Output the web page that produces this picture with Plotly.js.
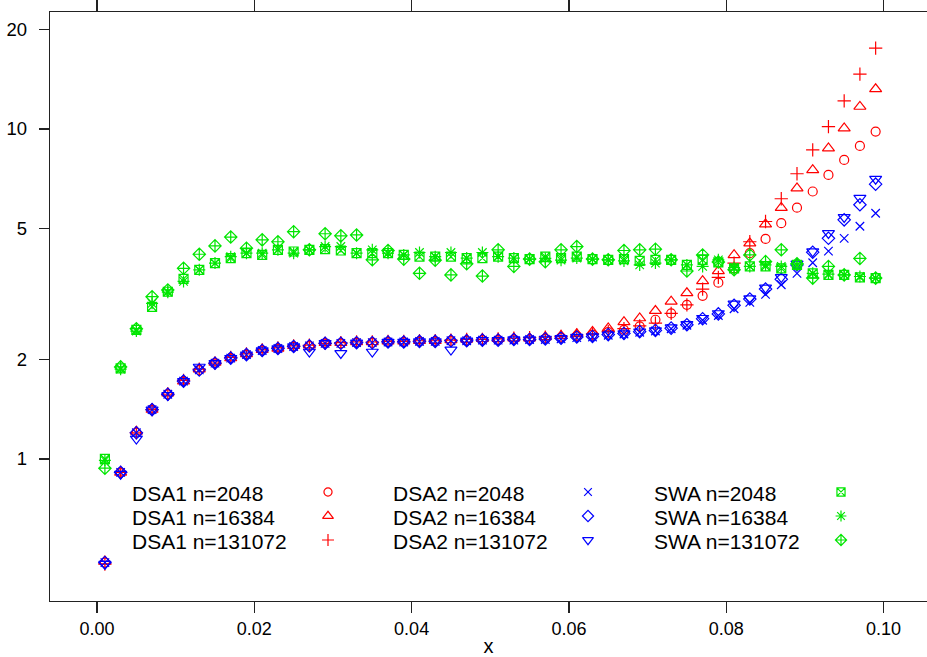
<!DOCTYPE html>
<html>
<head>
<meta charset="utf-8">
<script src="https://cdn.plot.ly/plotly-3.0.1.min.js"></script>
<style>html,body{margin:0;padding:0;overflow:hidden;background:#fff}#chart{width:927px;height:657px}</style>
</head>
<body>
<div id="chart"></div>
<script>
// ---- data ----
const xVals = [0.001,0.003,0.005,0.007,0.009,0.011,0.013,0.015,0.017,0.019,0.021,0.023,0.025,0.027,0.029,0.031,0.033,0.035,0.037,0.039,0.041,0.043,0.045,0.047,0.049,0.051,0.053,0.055,0.057,0.059,0.061,0.063,0.065,0.067,0.069,0.071,0.073,0.075,0.077,0.079,0.081,0.083,0.085,0.087,0.089,0.091,0.093,0.095,0.097,0.099];

const dsa1_n2048 = [0.485,0.91,1.20,1.41,1.57,1.72,1.86,1.95,2.02,2.07,
  2.13,2.16,2.19,2.20,2.24,2.24,2.25,2.25,2.26,2.26,
  2.27,2.27,2.28,2.28,2.29,2.29,2.30,2.30,2.31,2.33,
  2.36,2.38,2.42,2.46,2.52,2.64,2.76,2.93,3.12,3.42,
  3.78,4.20,4.64,5.18,5.77,6.46,7.25,8.05,8.88,9.81];
const dsa1_n16384 = [0.49,0.91,1.21,1.41,1.58,1.72,1.87,1.96,2.02,2.08,
  2.14,2.16,2.20,2.21,2.25,2.25,2.26,2.26,2.27,2.27,
  2.28,2.28,2.29,2.30,2.31,2.31,2.32,2.32,2.34,2.36,
  2.39,2.43,2.49,2.60,2.67,2.81,3.00,3.18,3.46,3.71,
  4.15,4.50,5.14,5.77,6.61,7.51,8.74,10.05,11.68,13.20];
const dsa1_n131072 = [0.48,0.91,1.20,1.41,1.57,1.73,1.87,1.95,2.03,2.08,
  2.14,2.17,2.20,2.21,2.24,2.25,2.26,2.26,2.27,2.27,
  2.28,2.28,2.29,2.30,2.30,2.31,2.32,2.33,2.34,2.35,
  2.37,2.39,2.43,2.48,2.53,2.58,2.76,2.93,3.27,3.55,
  3.92,4.55,5.24,6.14,7.31,8.64,10.16,12.16,14.65,17.56];
const dsa2_n2048 = [0.485,0.91,1.20,1.41,1.57,1.72,1.86,1.95,2.02,2.07,
  2.13,2.16,2.19,2.20,2.24,2.24,2.25,2.25,2.26,2.26,
  2.27,2.27,2.28,2.28,2.29,2.29,2.29,2.30,2.30,2.31,
  2.33,2.34,2.37,2.39,2.42,2.44,2.48,2.54,2.63,2.72,
  2.85,2.98,3.15,3.37,3.65,3.93,4.26,4.66,5.07,5.55];
const dsa2_n16384 = [0.485,0.91,1.20,1.41,1.57,1.72,1.86,1.95,2.02,2.07,
  2.13,2.16,2.19,2.20,2.24,2.24,2.25,2.25,2.26,2.26,
  2.27,2.27,2.28,2.28,2.29,2.29,2.30,2.30,2.31,2.32,
  2.34,2.35,2.38,2.40,2.43,2.45,2.49,2.55,2.66,2.75,
  2.92,3.05,3.27,3.50,3.87,4.23,4.66,5.30,5.89,6.80];
const dsa2_n131072 = [0.48,0.90,1.15,1.41,1.56,1.72,1.90,1.95,2.02,2.07,
  2.13,2.16,2.19,2.11,2.24,2.09,2.25,2.11,2.26,2.26,
  2.27,2.27,2.14,2.28,2.29,2.29,2.30,2.30,2.31,2.32,
  2.34,2.35,2.38,2.40,2.43,2.45,2.50,2.56,2.67,2.76,
  2.95,3.06,3.30,3.55,3.90,4.25,4.83,5.40,6.17,7.05];
const swa_n2048 = [1.00,1.88,2.46,2.89,3.21,3.51,3.74,3.92,4.06,4.20,
  4.15,4.30,4.25,4.30,4.32,4.28,4.20,4.20,4.20,4.15,
  4.10,4.10,4.10,4.06,4.06,4.10,4.06,4.03,4.10,4.06,
  4.10,4.03,4.01,4.03,3.98,4.01,4.01,3.87,4.01,3.94,
  3.78,3.83,3.83,3.78,3.87,3.65,3.61,3.61,3.55,3.53];
const swa_n16384 = [0.99,1.87,2.44,2.96,3.20,3.45,3.74,3.92,4.10,4.20,
  4.20,4.30,4.20,4.30,4.40,4.40,4.20,4.30,4.20,4.15,
  4.22,4.10,4.22,4.06,4.22,4.10,4.06,4.03,4.05,4.00,
  4.06,4.03,4.01,3.98,3.87,3.92,4.01,3.87,3.83,4.01,
  3.80,3.83,3.87,3.83,3.87,3.65,3.63,3.61,3.57,3.53];
const swa_n131072 = [0.937,1.90,2.48,3.10,3.25,3.78,4.17,4.42,4.70,4.35,
  4.61,4.55,4.88,4.30,4.81,4.74,4.77,4.01,4.28,4.03,
  3.65,4.00,3.61,3.90,3.58,4.30,3.83,4.03,3.96,4.30,
  4.40,4.03,4.01,4.28,4.30,4.32,4.01,3.71,4.15,3.95,
  3.74,4.15,3.96,4.30,3.90,3.53,3.83,3.61,4.05,3.53];

const seriesNames = ["DSA1 n=2048","DSA1 n=16384","DSA1 n=131072",
                     "DSA2 n=2048","DSA2 n=16384","DSA2 n=131072",
                     "SWA n=2048","SWA n=16384","SWA n=131072"];
const xTickVals = [0,0.02,0.04,0.06,0.08,0.10];
const xTickText = ["0.00","0.02","0.04","0.06","0.08","0.10"];
const yTickVals = [1,2,5,10,20];
const yTickText = ["1","2","5","10","20"];

// ---- styles ----
const RED = "#ff0000", BLUE = "#0000ff", GREEN = "#00e600";
const seriesY = [dsa1_n2048, dsa1_n16384, dsa1_n131072, dsa2_n2048, dsa2_n16384, dsa2_n131072, swa_n2048, swa_n16384, swa_n131072];
const styles = [
  {c: RED,   s: "circle-open",        z: 9},
  {c: RED,   s: "triangle-up-open",   z: 10.5},
  {c: RED,   s: "cross-thin-open",    z: 9.5},
  {c: BLUE,  s: "x-thin-open",        z: 8.5},
  {c: BLUE,  s: "diamond-open",       z: 9.5},
  {c: BLUE,  s: "triangle-down-open", z: 10.5},
  {c: GREEN, s: "square-x-open",      z: 9},
  {c: GREEN, s: "asterisk-open",      z: 10},
  {c: GREEN, s: "diamond-cross-open", z: 9.5}
];

const traces = seriesY.map((ys, k) => ({
  type: "scatter", mode: "markers", x: xVals, y: ys, name: seriesNames[k],
  showlegend: false, hoverinfo: "skip",
  marker: {symbol: styles[k].s, size: styles[k].z, color: styles[k].c,
           line: {color: styles[k].c, width: 1.2}}
}));

// key (drawn in a pixel-like overlay frame)
const keySymX = [328, 588, 841];
const keyTextX = [132, 393, 654];
const keyRowY = [492, 516, 540];
const annotations = [];
seriesNames.forEach((nm, k) => {
  const col = Math.floor(k / 3), row = k % 3;
  traces.push({
    type: "scatter", mode: "markers", xaxis: "x2", yaxis: "y2",
    x: [keySymX[col]], y: [keyRowY[row]], showlegend: false, hoverinfo: "skip",
    marker: {symbol: styles[k].s, size: styles[k].z * 0.9, color: styles[k].c,
             line: {color: styles[k].c, width: 1.2}}
  });
  annotations.push({
    xref: "x2", yref: "y2", x: keyTextX[col], y: keyRowY[row] + 1,
    text: nm, showarrow: false, xanchor: "left", yanchor: "middle",
    borderpad: 0, borderwidth: 0,
    font: {size: 21, color: "#000"}
  });
});

const axisLine = "#222222";
const layout = {
  width: 927, height: 657,
  margin: {l: 50, r: 0, t: 12, b: 56, pad: 0},
  paper_bgcolor: "#ffffff", plot_bgcolor: "#ffffff",
  font: {family: "Liberation Sans, Arial, sans-serif", color: "#000"},
  showlegend: false,
  xaxis: {
    range: [-0.00598, 0.10553], tickvals: xTickVals, ticktext: xTickText,
    ticks: "outside", ticklen: 11, tickwidth: 1.3, tickcolor: axisLine,
    showline: true, linecolor: axisLine, linewidth: 1.3, mirror: "ticks",
    showgrid: false, zeroline: false,
    tickfont: {size: 18},
    title: {text: "x", font: {size: 20}, standoff: 5}
  },
  yaxis: {
    type: "log", range: [Math.log10(0.371), Math.log10(22.6)],
    tickvals: yTickVals, ticktext: yTickText,
    ticks: "outside", ticklen: 10, tickwidth: 1.3, tickcolor: axisLine,
    showline: true, linecolor: axisLine, linewidth: 1.3, mirror: false,
    showgrid: false, zeroline: false, ticklabelstandoff: 8,
    tickfont: {size: 18.5}
  },
  xaxis2: {overlaying: "x", range: [50, 927], visible: false, fixedrange: true},
  yaxis2: {overlaying: "y", range: [601, 12], visible: false, fixedrange: true},
  annotations: annotations
};

Plotly.newPlot("chart", traces, layout, {staticPlot: true, displayModeBar: false});
</script>
</body>
</html>
